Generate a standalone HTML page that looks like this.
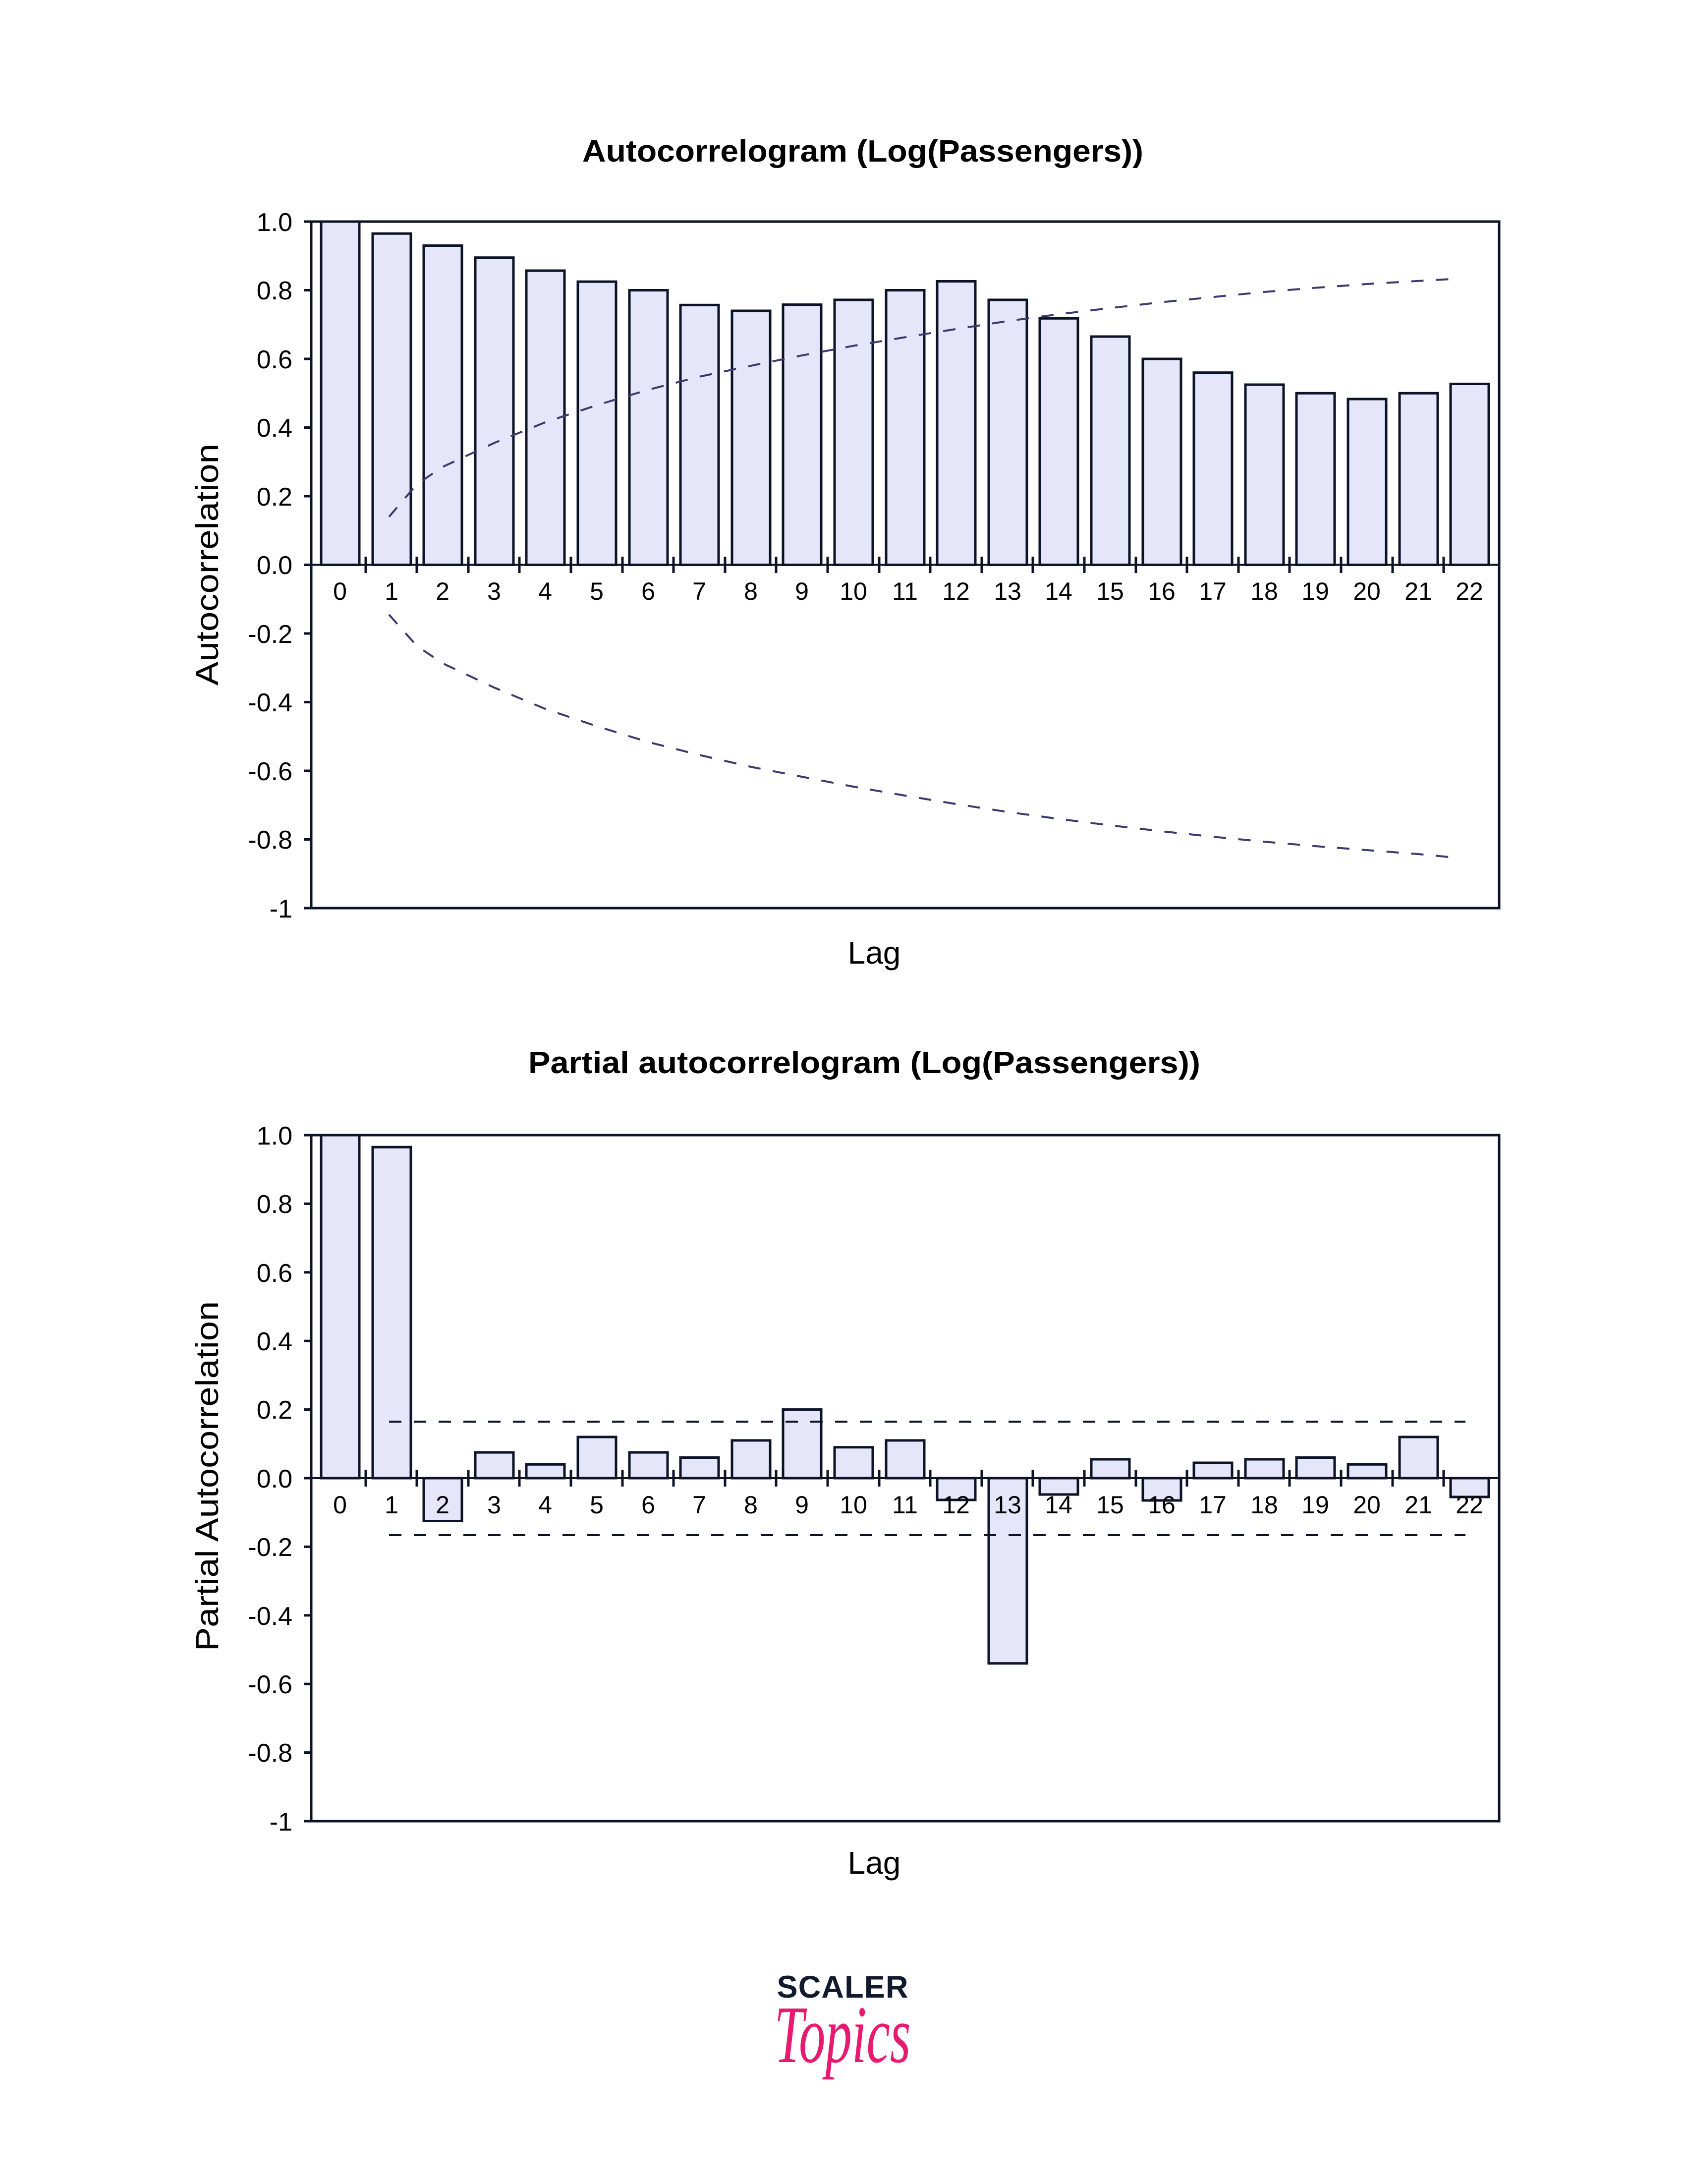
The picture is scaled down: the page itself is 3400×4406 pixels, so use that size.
<!DOCTYPE html>
<html><head><meta charset="utf-8"><style>html,body{margin:0;padding:0;background:#fff}svg{display:block}</style></head>
<body>
<svg width="3400" height="4406" viewBox="0 0 3400 4406" xmlns="http://www.w3.org/2000/svg" font-family="Liberation Sans, sans-serif">
<rect width="3400" height="4406" fill="#fff"/>
<!-- ===== TOP: ACF ===== -->
<text x="1741" y="326" font-size="62" font-weight="bold" text-anchor="middle" textLength="1132" lengthAdjust="spacingAndGlyphs" fill="#000">Autocorrelogram (Log(Passengers))</text>
<g fill="#e6e6fa" stroke="#0d1326" stroke-width="5">
<rect x="648" y="447" width="77" height="692.5"/>
<rect x="752" y="471.2" width="77" height="668.3"/>
<rect x="855" y="495.5" width="77" height="644"/>
<rect x="959" y="519.7" width="77" height="619.8"/>
<rect x="1062" y="546" width="77" height="593.5"/>
<rect x="1166" y="568.2" width="77" height="571.3"/>
<rect x="1270" y="585.5" width="77" height="554"/>
<rect x="1373" y="615.3" width="77" height="524.2"/>
<rect x="1477" y="627" width="77" height="512.5"/>
<rect x="1580" y="614.6" width="77" height="524.9"/>
<rect x="1684" y="604.9" width="77" height="534.6"/>
<rect x="1788" y="585.5" width="77" height="554"/>
<rect x="1891" y="567.5" width="77" height="572"/>
<rect x="1995" y="604.9" width="77" height="534.6"/>
<rect x="2098" y="642.3" width="77" height="497.2"/>
<rect x="2202" y="679" width="77" height="460.5"/>
<rect x="2306" y="724" width="77" height="415.5"/>
<rect x="2409" y="751.7" width="77" height="387.8"/>
<rect x="2513" y="776" width="77" height="363.5"/>
<rect x="2616" y="793.3" width="77" height="346.2"/>
<rect x="2720" y="805" width="77" height="334.5"/>
<rect x="2824" y="793.3" width="77" height="346.2"/>
<rect x="2927" y="774.5" width="77" height="365"/>
</g>
<g fill="none" stroke="#3a3a6e" stroke-width="4" stroke-dasharray="25,25">
<polyline points="785,1042.6 841,977 893,942 997,893.7 1100,852 1204,817.5 1308,786.3 1411,760 1515,737.9 1618,717.1 1722,697.7 1826,680.4 1929,663.8 2033,647.8 2136,634 2240,621.5 2344,609.7 2447,599.3 2551,589 2654,580.6 2758,573 2862,566.8 2935,562.6"/>
<polyline points="785,1240 841,1303 893,1338 997,1387 1100,1430 1204,1465 1308,1497 1411,1523 1515,1547 1618,1567 1722,1587 1826,1605 1929,1622 2033,1638 2136,1652 2240,1665 2344,1677 2447,1688 2551,1698 2654,1707 2758,1715 2862,1723 2935,1730"/>
</g>
<rect x="628" y="447" width="2397" height="1385" fill="none" stroke="#0d1326" stroke-width="5"/>
<line x1="628" y1="1139.5" x2="3025" y2="1139.5" stroke="#0d1326" stroke-width="4"/>
<g stroke="#0d1326" stroke-width="5">
<line x1="613" y1="447" x2="628" y2="447"/><line x1="613" y1="585.5" x2="628" y2="585.5"/><line x1="613" y1="724" x2="628" y2="724"/><line x1="613" y1="862.5" x2="628" y2="862.5"/><line x1="613" y1="1001" x2="628" y2="1001"/><line x1="613" y1="1139.5" x2="628" y2="1139.5"/><line x1="613" y1="1278" x2="628" y2="1278"/><line x1="613" y1="1416.5" x2="628" y2="1416.5"/><line x1="613" y1="1555" x2="628" y2="1555"/><line x1="613" y1="1693.5" x2="628" y2="1693.5"/><line x1="613" y1="1832" x2="628" y2="1832"/>
</g>
<g stroke="#0d1326" stroke-width="5">
<line x1="738" y1="1123" x2="738" y2="1156"/><line x1="841" y1="1123" x2="841" y2="1156"/><line x1="945" y1="1123" x2="945" y2="1156"/><line x1="1048" y1="1123" x2="1048" y2="1156"/><line x1="1152" y1="1123" x2="1152" y2="1156"/><line x1="1256" y1="1123" x2="1256" y2="1156"/><line x1="1359" y1="1123" x2="1359" y2="1156"/><line x1="1463" y1="1123" x2="1463" y2="1156"/><line x1="1566" y1="1123" x2="1566" y2="1156"/><line x1="1670" y1="1123" x2="1670" y2="1156"/><line x1="1774" y1="1123" x2="1774" y2="1156"/><line x1="1877" y1="1123" x2="1877" y2="1156"/><line x1="1981" y1="1123" x2="1981" y2="1156"/><line x1="2084" y1="1123" x2="2084" y2="1156"/><line x1="2188" y1="1123" x2="2188" y2="1156"/><line x1="2292" y1="1123" x2="2292" y2="1156"/><line x1="2395" y1="1123" x2="2395" y2="1156"/><line x1="2499" y1="1123" x2="2499" y2="1156"/><line x1="2602" y1="1123" x2="2602" y2="1156"/><line x1="2706" y1="1123" x2="2706" y2="1156"/><line x1="2810" y1="1123" x2="2810" y2="1156"/><line x1="2913" y1="1123" x2="2913" y2="1156"/>
</g>
<g font-size="52" text-anchor="end" fill="#000">
<text x="590" y="466">1.0</text><text x="590" y="604">0.8</text><text x="590" y="743">0.6</text><text x="590" y="881">0.4</text><text x="590" y="1020">0.2</text><text x="590" y="1158">0.0</text><text x="590" y="1297">-0.2</text><text x="590" y="1435">-0.4</text><text x="590" y="1574">-0.6</text><text x="590" y="1712">-0.8</text><text x="590" y="1851">-1</text>
</g>
<g font-size="50" text-anchor="middle" fill="#000">
<text x="686" y="1210">0</text><text x="790" y="1210">1</text><text x="893" y="1210">2</text><text x="997" y="1210">3</text><text x="1100" y="1210">4</text><text x="1204" y="1210">5</text><text x="1308" y="1210">6</text><text x="1411" y="1210">7</text><text x="1515" y="1210">8</text><text x="1618" y="1210">9</text><text x="1722" y="1210">10</text><text x="1826" y="1210">11</text><text x="1929" y="1210">12</text><text x="2033" y="1210">13</text><text x="2136" y="1210">14</text><text x="2240" y="1210">15</text><text x="2344" y="1210">16</text><text x="2447" y="1210">17</text><text x="2551" y="1210">18</text><text x="2654" y="1210">19</text><text x="2758" y="1210">20</text><text x="2862" y="1210">21</text><text x="2965" y="1210">22</text>
</g>
<text x="1764" y="1944" font-size="64" text-anchor="middle" fill="#000">Lag</text>
<text transform="translate(440,1139) rotate(-90)" font-size="64" text-anchor="middle" textLength="488" lengthAdjust="spacingAndGlyphs" fill="#000">Autocorrelation</text>

<!-- ===== BOTTOM: PACF ===== -->
<text x="1744" y="2165" font-size="62" font-weight="bold" text-anchor="middle" textLength="1356" lengthAdjust="spacingAndGlyphs" fill="#000">Partial autocorrelogram (Log(Passengers))</text>
<g fill="#e6e6fa" stroke="#0d1326" stroke-width="5">
<rect x="648" y="2290" width="77" height="692"/>
<rect x="752" y="2314.2" width="77" height="667.8"/>
<rect x="855" y="2982" width="77" height="86.5"/>
<rect x="959" y="2930.1" width="77" height="51.9"/>
<rect x="1062" y="2954.3" width="77" height="27.7"/>
<rect x="1166" y="2899" width="77" height="83"/>
<rect x="1270" y="2930.1" width="77" height="51.9"/>
<rect x="1373" y="2940.5" width="77" height="41.5"/>
<rect x="1477" y="2905.9" width="77" height="76.1"/>
<rect x="1580" y="2843.6" width="77" height="138.4"/>
<rect x="1684" y="2919.7" width="77" height="62.3"/>
<rect x="1788" y="2905.9" width="77" height="76.1"/>
<rect x="1891" y="2982" width="77" height="44"/>
<rect x="1995" y="2982" width="77" height="373.7"/>
<rect x="2098" y="2982" width="77" height="33"/>
<rect x="2202" y="2944" width="77" height="38"/>
<rect x="2306" y="2982" width="77" height="45"/>
<rect x="2409" y="2951" width="77" height="31"/>
<rect x="2513" y="2944" width="77" height="38"/>
<rect x="2616" y="2940.5" width="77" height="41.5"/>
<rect x="2720" y="2954.3" width="77" height="27.7"/>
<rect x="2824" y="2899" width="77" height="83"/>
<rect x="2927" y="2982" width="77" height="38"/>
</g>
<g stroke="#0d1326" stroke-width="4" stroke-dasharray="25,25">
<line x1="785" y1="2868" x2="2957" y2="2868"/>
<line x1="785" y1="3097" x2="2957" y2="3097"/>
</g>
<rect x="628" y="2290" width="2397" height="1384" fill="none" stroke="#0d1326" stroke-width="5"/>
<line x1="628" y1="2982" x2="3025" y2="2982" stroke="#0d1326" stroke-width="4"/>
<g stroke="#0d1326" stroke-width="5">
<line x1="613" y1="2290" x2="628" y2="2290"/><line x1="613" y1="2428.4" x2="628" y2="2428.4"/><line x1="613" y1="2566.8" x2="628" y2="2566.8"/><line x1="613" y1="2705.2" x2="628" y2="2705.2"/><line x1="613" y1="2843.6" x2="628" y2="2843.6"/><line x1="613" y1="2982" x2="628" y2="2982"/><line x1="613" y1="3120.4" x2="628" y2="3120.4"/><line x1="613" y1="3258.8" x2="628" y2="3258.8"/><line x1="613" y1="3397.2" x2="628" y2="3397.2"/><line x1="613" y1="3535.6" x2="628" y2="3535.6"/><line x1="613" y1="3674" x2="628" y2="3674"/>
</g>
<g stroke="#0d1326" stroke-width="5">
<line x1="738" y1="2965" x2="738" y2="2999"/><line x1="841" y1="2965" x2="841" y2="2999"/><line x1="945" y1="2965" x2="945" y2="2999"/><line x1="1048" y1="2965" x2="1048" y2="2999"/><line x1="1152" y1="2965" x2="1152" y2="2999"/><line x1="1256" y1="2965" x2="1256" y2="2999"/><line x1="1359" y1="2965" x2="1359" y2="2999"/><line x1="1463" y1="2965" x2="1463" y2="2999"/><line x1="1566" y1="2965" x2="1566" y2="2999"/><line x1="1670" y1="2965" x2="1670" y2="2999"/><line x1="1774" y1="2965" x2="1774" y2="2999"/><line x1="1877" y1="2965" x2="1877" y2="2999"/><line x1="1981" y1="2965" x2="1981" y2="2999"/><line x1="2084" y1="2965" x2="2084" y2="2999"/><line x1="2188" y1="2965" x2="2188" y2="2999"/><line x1="2292" y1="2965" x2="2292" y2="2999"/><line x1="2395" y1="2965" x2="2395" y2="2999"/><line x1="2499" y1="2965" x2="2499" y2="2999"/><line x1="2602" y1="2965" x2="2602" y2="2999"/><line x1="2706" y1="2965" x2="2706" y2="2999"/><line x1="2810" y1="2965" x2="2810" y2="2999"/><line x1="2913" y1="2965" x2="2913" y2="2999"/>
</g>
<g font-size="52" text-anchor="end" fill="#000">
<text x="590" y="2309">1.0</text><text x="590" y="2447">0.8</text><text x="590" y="2586">0.6</text><text x="590" y="2724">0.4</text><text x="590" y="2862">0.2</text><text x="590" y="3001">0.0</text><text x="590" y="3139">-0.2</text><text x="590" y="3278">-0.4</text><text x="590" y="3416">-0.6</text><text x="590" y="3554">-0.8</text><text x="590" y="3693">-1</text>
</g>
<g font-size="50" text-anchor="middle" fill="#000">
<text x="686" y="3053">0</text><text x="790" y="3053">1</text><text x="893" y="3053">2</text><text x="997" y="3053">3</text><text x="1100" y="3053">4</text><text x="1204" y="3053">5</text><text x="1308" y="3053">6</text><text x="1411" y="3053">7</text><text x="1515" y="3053">8</text><text x="1618" y="3053">9</text><text x="1722" y="3053">10</text><text x="1826" y="3053">11</text><text x="1929" y="3053">12</text><text x="2033" y="3053">13</text><text x="2136" y="3053">14</text><text x="2240" y="3053">15</text><text x="2344" y="3053">16</text><text x="2447" y="3053">17</text><text x="2551" y="3053">18</text><text x="2654" y="3053">19</text><text x="2758" y="3053">20</text><text x="2862" y="3053">21</text><text x="2965" y="3053">22</text>
</g>
<text x="1764" y="3780" font-size="64" text-anchor="middle" fill="#000">Lag</text>
<text transform="translate(440,2978) rotate(-90)" font-size="64" text-anchor="middle" textLength="706" lengthAdjust="spacingAndGlyphs" fill="#000">Partial Autocorrelation</text>

<!-- ===== LOGO ===== -->
<text x="1700" y="4030" font-size="63" font-weight="bold" text-anchor="middle" textLength="265" lengthAdjust="spacing" fill="#121a2e">SCALER</text>
<text x="1700" y="4160" font-family="Liberation Serif, serif" font-style="italic" font-size="165" text-anchor="middle" textLength="275" lengthAdjust="spacingAndGlyphs" fill="#e8196e">Topics</text>
</svg>
</body></html>
